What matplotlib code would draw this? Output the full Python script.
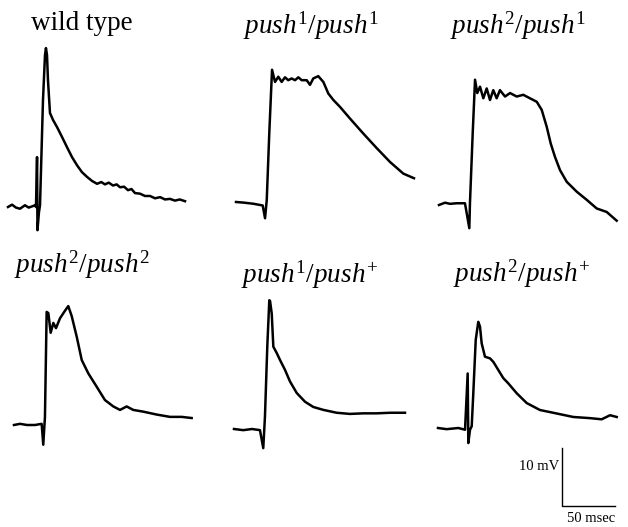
import matplotlib.pyplot as plt

plt.rcParams['mathtext.fontset'] = 'custom'
plt.rcParams['mathtext.rm'] = 'Liberation Serif'
plt.rcParams['mathtext.it'] = 'Liberation Serif:italic'

# scale of the figure: ms per pixel and mV per pixel
ms_px = 50 / 53.0
mv_px = 10 / 58.0

# traces, time in ms from start of sweep, voltage in mV above baseline
wt_t = [0, 3.8, 7.5, 11.3, 16.0, 19.5, 22.6, 25.5, 26.4, 27.4, 27.8, 29.2, 30.2, 33.0, 34.9,
        35.8, 36.8, 37.7, 39.6, 42.5, 46.2, 50.9, 55.7, 60.4, 65.1, 69.8, 74.5, 79.2, 84.0,
        88.0, 91.5, 95.0, 99.1, 102.5, 105.7, 109.5, 113.2, 116.5, 119.8, 124.5, 129.2, 134.0,
        138.7, 143.5, 148.1, 152.8, 157.5, 162.0, 167.0]
wt_v = [0, 0.4, -0.1, -0.3, 0.3, -0.1, 0.1, 0.3, 0, 8.6, -4.0, -0.9, 0.3, 18.4, 26.2,
        27.4, 26.2, 21.9, 16.2, 15.0, 13.8, 12.1, 10.3, 8.6, 7.2, 6.0, 5.2, 4.5, 4.0,
        4.3, 3.9, 4.2, 3.7, 3.9, 3.4, 3.5, 2.9, 3.1, 2.4, 2.3, 1.9, 1.9, 1.5, 1.7, 1.3,
        1.4, 1.1, 1.3, 1.0]

p11_t = [0, 6.9, 16.3, 25.2, 27.4, 29.0, 31.4, 34.0, 36.8, 39.9, 43.1, 46.2, 49.3, 52.5,
         55.7, 58.8, 62.0, 66.7, 69.8, 72.9, 77.6, 82.4, 87.1, 91.8, 98.1, 107.5, 120.1,
         132.7, 145.3, 157.8, 167.9]
p11_v = [0, -0.1, -0.3, -0.6, -2.8, 0.3, 11.9, 22.8, 20.7, 21.6, 20.7, 21.5, 21.0, 21.3,
         21.0, 21.5, 21.0, 21.0, 20.2, 21.3, 21.7, 20.7, 18.7, 17.6, 16.4, 14.4, 11.8,
         9.3, 6.9, 4.9, 4.1]

p21_t = [0, 5.7, 10.4, 16.7, 24.5, 28.6, 29.2, 31.8, 34.0, 36.1, 38.7, 41.8, 45.0, 48.1,
         51.2, 54.4, 57.5, 62.3, 67.0, 73.3, 79.5, 85.8, 92.2, 96.9, 101.6, 105.4, 109.4,
         114.2, 120.5, 129.9, 139.3, 148.8, 158.2, 167.6]
p21_v = [0, 0.4, 0.2, 0.3, 0.3, -4.0, 0.3, 12.4, 21.6, 19.3, 20.4, 18.4, 20.1, 18.1,
         19.8, 18.4, 19.8, 18.7, 19.3, 18.7, 19.0, 18.4, 17.8, 16.4, 13.5, 10.6, 8.3,
         6.0, 4.0, 2.3, 0.9, -0.6, -1.2, -2.7]

p22_t = [0, 5.7, 12.3, 19.8, 26.1, 27.6, 29.2, 30.8, 32.4, 34.6, 37.1, 39.6, 43.4, 48.1,
         51.2, 54.4, 59.2, 63.9, 70.1, 78.0, 85.8, 93.7, 100.0, 106.3, 112.5, 122.0,
         134.6, 147.2, 158.2, 167.6]
p22_v = [0, 0.2, 0, 0, 0.2, -3.4, 1.4, 19.5, 19.3, 15.9, 17.6, 16.7, 18.4, 19.7,
         20.5, 18.8, 15.2, 11.2, 8.9, 6.6, 4.3, 3.2, 2.6, 3.2, 2.6, 2.3,
         1.8, 1.4, 1.4, 1.2]

p1p_t = [0, 8.8, 17.0, 24.5, 27.6, 29.2, 31.4, 33.3, 34.0, 35.6, 37.1, 40.3, 43.4, 48.1,
         52.8, 59.2, 67.0, 74.8, 84.2, 96.9, 109.4, 122.0, 134.6, 147.2, 161.3]
p1p_v = [0, -0.2, 0, -0.2, -3.3, 2.1, 14.2, 22.2, 22.1, 19.9, 14.2, 13.1, 11.9, 10.2,
         8.2, 6.2, 4.7, 3.8, 3.3, 2.8, 2.6, 2.7, 2.7, 2.8, 2.8]

p2p_t = [0, 8.2, 19.2, 25.5, 28.0, 28.6, 30.2, 31.8, 33.3, 35.6, 38.0, 39.6, 41.2, 44.3,
         49.1, 52.2, 56.9, 61.6, 66.3, 74.2, 83.7, 96.2, 112.0, 127.6, 143.4, 154.4,
         162.3, 168.6]
p2p_v = [0, -0.2, 0, -0.3, 9.4, -2.6, -0.3, 0.3, 6.0, 15.2, 18.3, 17.5, 14.6, 12.3,
         12.0, 11.4, 10.0, 8.6, 7.7, 6.0, 4.3, 3.1, 2.5, 1.9, 1.7, 1.5,
         2.2, 1.9]

labels = ['wild type', r'$push^{1}/push^{1}$', r'$push^{2}/push^{1}$',
          r'$push^{2}/push^{2}$', r'$push^{1}/push^{+}$', r'$push^{2}/push^{+}$']
traces = [(wt_t, wt_v), (p11_t, p11_v), (p21_t, p21_v),
          (p22_t, p22_v), (p1p_t, p1p_v), (p2p_t, p2p_v)]

# pixel position of each sweep start (baseline) and of each label centre
origins = [(8, 207), (236, 202), (439, 205), (14, 425), (234, 429), (438, 428)]
label_pos = [(82, 23), (311, 26), (518, 26), (82, 265), (310, 275), (522, 274)]

W, H = 628, 527
fig = plt.figure(figsize=(W / 100, H / 100), dpi=100)
ax = fig.add_axes([0, 0, 1, 1])
ax.set_xlim(0, W * ms_px)
ax.set_ylim(0, H * mv_px)
ax.axis('off')

for (t, v), (x0, y0) in zip(traces, origins):
    ax.plot([ti + x0 * ms_px for ti in t], [vi + (H - y0) * mv_px for vi in v],
            color='black', lw=1.8, solid_joinstyle='round')

for lab, (lx, ly) in zip(labels, label_pos):
    fig.text(lx / W, 1 - ly / H, lab, ha='center', va='center',
             fontsize=19.5, family='Liberation Serif')

# scale bar: 10 mV, 50 msec
bx, by = 562 * ms_px, (H - 506) * mv_px
ax.plot([bx, bx, bx + 50], [by + 10, by, by], color='black', lw=1.0)
fig.text(559 / W, 1 - 467 / H, '10 mV', ha='right', va='center',
         fontsize=10.5, family='Liberation Serif')
fig.text(591 / W, 1 - 519 / H, '50 msec', ha='center', va='center',
         fontsize=10.5, family='Liberation Serif')

fig.savefig('out.png', dpi=100)
